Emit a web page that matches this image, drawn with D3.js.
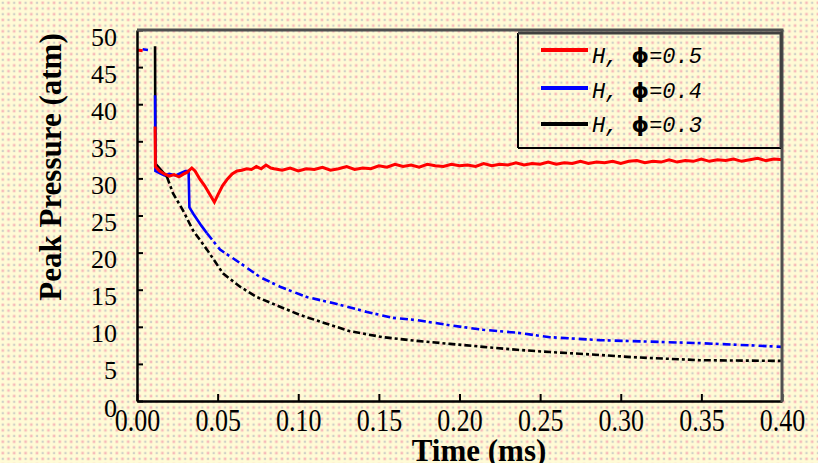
<!DOCTYPE html>
<html><head><meta charset="utf-8">
<script src="https://cdn.jsdelivr.net/npm/d3@7"></script>
<style>body{margin:0;background:#fffad2;} svg{display:block}</style>
</head><body>
<script>
// ---- data ----
const xTicks = [0.00,0.05,0.10,0.15,0.20,0.25,0.30,0.35,0.40];
const yTicks = [0,5,10,15,20,25,30,35,40,45,50];
const xTitle = "Time (ms)";
const yTitle = "Peak Pressure (atm)";
const seriesLabels = ["=0.5","=0.4","=0.3"];
const seriesColors = ["#ff0000","#0000ff","#000000"];

// H2, phi=0.5
const red = [[0,47.3],[0.0035,47.2],[0.004,null],[0.0112,37.0],[0.0114,31.6],[0.014,31.0],[0.017,30.6],[0.020,30.3],[0.023,30.5],[0.026,30.2],[0.029,30.6],[0.031,30.8],[0.034,31.4],[0.036,31.0],[0.039,29.9],[0.042,29.0],[0.045,27.9],[0.048,26.8],[0.050,27.7],[0.053,29.0],[0.056,29.9],[0.059,30.6],[0.062,31.0],[0.065,31.1],[0.068,31.3],[0.071,31.2],[0.074,31.6],[0.077,31.3],[0.080,31.8],[0.083,31.4],
[0.085,31.3],[0.090,31.1],[0.095,31.4],[0.100,31.0],[0.105,31.3],[0.110,31.2],[0.115,31.5],[0.120,31.1],[0.125,31.3],[0.130,31.6],[0.135,31.2],[0.140,31.4],[0.145,31.3],[0.150,31.7],[0.155,31.5],[0.160,31.9],[0.165,31.6],[0.170,31.8],[0.175,31.5],[0.180,31.9],[0.185,31.7],[0.190,31.6],[0.195,31.9],[0.200,31.7],[0.205,31.8],[0.210,31.6],[0.215,32.0],[0.220,31.7],[0.225,31.9],[0.230,31.8],[0.235,32.1],[0.240,31.8],[0.245,32.0],[0.250,31.9],[0.255,32.2],[0.260,31.9],[0.265,32.1],[0.270,32.0],[0.275,32.3],[0.280,32.0],[0.285,32.2],[0.290,32.1],[0.295,32.3],[0.300,32.0],[0.305,32.3],[0.310,32.4],[0.315,32.1],[0.320,32.3],[0.325,32.2],[0.330,32.5],[0.335,32.2],[0.340,32.4],[0.345,32.3],[0.350,32.6],[0.355,32.3],[0.360,32.5],[0.365,32.4],[0.370,32.6],[0.375,32.3],[0.380,32.5],[0.385,32.7],[0.390,32.4],[0.395,32.6],[0.400,32.5]];

// H2, phi=0.4
const blue = [[0.0035,47.4],[0.0068,47.3],[0.007,null],[0.0112,41.2],[0.0114,31.0],[0.014,30.7],[0.017,30.4],[0.020,30.6],[0.024,30.4],[0.027,30.7],[0.030,31.0],[0.032,31.0],[0.0325,26.1],[0.035,25.2],[0.040,23.6],[0.0434,22.6],[0.0515,20.4],[0.0639,18.6],[0.0763,16.7],[0.0887,15.4],[0.1054,14.0],[0.1215,13.2],[0.1426,12.0],[0.1588,11.2],[0.1736,10.9],[0.1941,10.2],[0.2146,9.6],[0.2357,9.2],[0.2561,8.6],[0.2871,8.2],[0.3181,8.0],[0.3491,7.8],[0.3802,7.5],[0.400,7.3]];

// H2, phi=0.3
const black = [[0.0112,47.8],[0.0114,32.0],[0.0186,30.2],[0.0223,28.0],[0.0285,25.7],[0.0347,23.0],[0.0434,20.4],[0.0533,17.2],[0.0639,15.4],[0.0744,14.0],[0.0887,12.7],[0.1011,11.6],[0.1135,10.7],[0.1321,9.4],[0.1526,8.6],[0.1736,8.1],[0.1941,7.7],[0.2146,7.3],[0.2357,6.9],[0.2561,6.6],[0.2871,6.2],[0.3076,5.9],[0.3491,5.5],[0.400,5.4]];

// ---- drawing ----
const W = 818, H = 463;
const svg = d3.select("body").append("svg").attr("width", W).attr("height", H);
const defs = svg.append("defs");
const pat = defs.append("pattern").attr("id","bg").attr("width",11.4).attr("height",11.4).attr("patternUnits","userSpaceOnUse");
pat.append("rect").attr("width",11.4).attr("height",11.4).attr("fill","#fffbd6");
[[1.7,1.7,"#cfcfc6",2.2],[7.2,1.5,"#f7b9b9",2.6],[1.5,7.2,"#f7b9b9",2.6],[7.4,7.4,"#cfcfc6",2.2]].forEach(([px,py,c,s]) => {
  pat.append("rect").attr("x",px).attr("y",py).attr("width",s).attr("height",s).attr("fill",c);
});
svg.append("rect").attr("width",W).attr("height",H).attr("fill","url(#bg)");

const L = 137, R = 782, T = 30, B = 401;
const x = d3.scaleLinear().domain([0,0.4]).range([L,R]);
const y = d3.scaleLinear().domain([0,50]).range([B,T]);

// lines
const line = d3.line().defined(d => d[1] !== null).x(d => x(d[0])).y(d => y(d[1]));
function drawSeries(data, color, width, dashFrom, dash) {
  const solid = dashFrom == null ? data : data.filter(d => d[0] <= dashFrom);
  svg.append("path").attr("d", line(solid)).attr("fill","none").attr("stroke",color).attr("stroke-width",width).attr("stroke-linejoin","miter");
  if (dashFrom != null) {
    const rest = data.filter(d => d[0] >= dashFrom);
    svg.append("path").attr("d", line(rest)).attr("fill","none").attr("stroke",color).attr("stroke-width",width).attr("stroke-dasharray",dash);
  }
}
drawSeries(black, seriesColors[2], 2.6, 0.0186, "7,3,3,3");
drawSeries(blue, seriesColors[1], 2.6, 0.0434, "8,3,3,4");
drawSeries(red, seriesColors[0], 3, null, null);

// axes
const xAxis = svg.append("g").attr("transform",`translate(0,${B})`)
  .call(d3.axisBottom(x).tickValues(xTicks).tickSize(-7).tickSizeOuter(0).tickFormat(d3.format(".2f")));
xAxis.select(".domain").attr("stroke","#000").attr("stroke-width",2.5);
xAxis.selectAll(".tick line").attr("stroke","#000").attr("stroke-width",2);
xAxis.selectAll(".tick text").attr("y",null).attr("dy",null)
  .attr("transform","translate(0,30) scale(1,1.2)")
  .attr("font-family","'Liberation Serif', serif").attr("font-size",26).attr("fill","#000");

const yAxis = svg.append("g").attr("transform",`translate(${L},0)`)
  .call(d3.axisLeft(y).tickValues(yTicks).tickSize(-6).tickSizeOuter(0).tickPadding(20).tickFormat(d3.format("d")));
yAxis.select(".domain").attr("stroke","#000").attr("stroke-width",2.5);
yAxis.selectAll(".tick line").attr("stroke","#000").attr("stroke-width",2);
yAxis.selectAll(".tick text").attr("dy",null).attr("y",15)
  .attr("font-family","'Liberation Serif', serif").attr("font-size",26).attr("fill","#000");

// top & right frame
svg.append("line").attr("x1",L).attr("x2",R+1.5).attr("y1",T).attr("y2",T).attr("stroke","#505050").attr("stroke-width",3);
svg.append("line").attr("x1",R).attr("x2",R).attr("y1",T).attr("y2",B+1).attr("stroke","#505050").attr("stroke-width",3);

// titles
svg.append("text").attr("x",479).attr("y",461).attr("text-anchor","middle")
  .attr("font-family","'Liberation Serif', serif").attr("font-weight","bold").attr("font-size",31).text(xTitle);
svg.append("text").attr("transform","translate(61,167) rotate(-90)").attr("text-anchor","middle")
  .attr("font-family","'Liberation Serif', serif").attr("font-weight","bold").attr("font-size",31).text(yTitle);

// legend
const lg = svg.append("g");
const lx0 = 518, ly0 = 33, lx1 = 781, ly1 = 148;
lg.append("rect").attr("x",lx0).attr("y",ly0).attr("width",lx1-lx0).attr("height",ly1-ly0).attr("fill","url(#bg)");
lg.append("line").attr("x1",lx0).attr("x2",lx0).attr("y1",ly0).attr("y2",ly1).attr("stroke","#000").attr("stroke-width",2);
lg.append("line").attr("x1",lx0).attr("x2",lx1).attr("y1",ly1).attr("y2",ly1).attr("stroke","#000").attr("stroke-width",2);
lg.append("line").attr("x1",lx0).attr("x2",lx1+1.5).attr("y1",ly0).attr("y2",ly0).attr("stroke","#404040").attr("stroke-width",3);
lg.append("line").attr("x1",lx1).attr("x2",lx1).attr("y1",ly0).attr("y2",ly1).attr("stroke","#404040").attr("stroke-width",3);
const lineYs = [50, 88, 124];
const textYs = [63, 98, 132];
seriesLabels.forEach((lab, i) => {
  lg.append("line").attr("x1",541).attr("x2",588).attr("y1",lineYs[i]).attr("y2",lineYs[i])
    .attr("stroke",seriesColors[i]).attr("stroke-width",4);
  const t = lg.append("text").attr("x",592).attr("y",textYs[i])
    .attr("font-family","'Liberation Mono', monospace").attr("font-style","italic").attr("font-size",22).attr("fill","#000");
  t.append("tspan").text("H, ");
  t.append("tspan").attr("font-family","'DejaVu Sans', sans-serif").attr("font-weight","bold").attr("font-style","normal").text("ϕ");
  t.append("tspan").text(lab);
});
</script>
</body></html>
